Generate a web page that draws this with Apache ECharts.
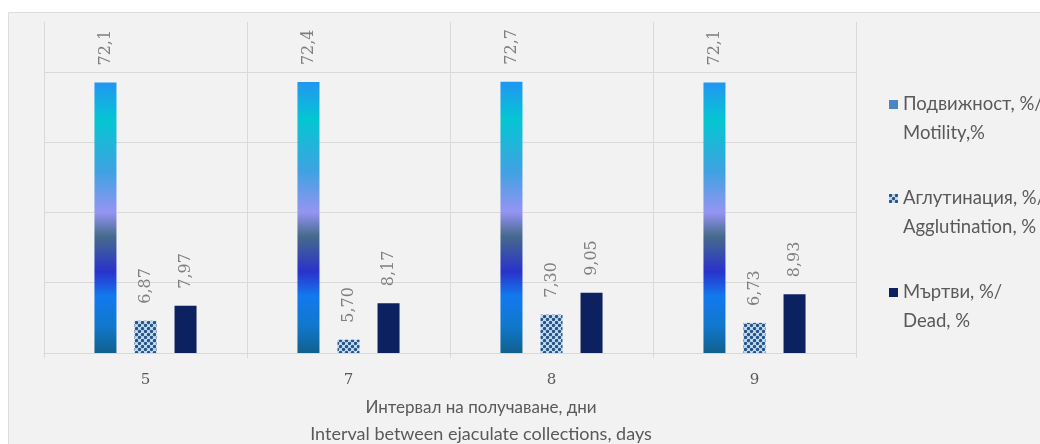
<!DOCTYPE html>
<html>
<head>
<meta charset="utf-8">
<script src="https://cdn.jsdelivr.net/npm/echarts@6/dist/echarts.min.js"></script>
<style>
  html, body { margin: 0; padding: 0; background: #ffffff; }
  #chart { width: 1040px; height: 444px; }
</style>
</head>
<body>
<div id="chart"></div>
<script>
// Collection interval (days) and semen quality indicators
const categories = ['5', '7', '8', '9'];
const motility = [72.1, 72.4, 72.7, 72.1];
const agglutination = [6.87, 5.70, 7.30, 6.73];
const dead = [7.97, 8.17, 9.05, 8.93];

const seriesNames = [
  'Подвижност, %/\nMotility,%',
  'Аглутинация, %/\nAgglutination, %',
  'Мъртви, %/\nDead, %'
];
const axisTitleBg = 'Интервал на получаване, дни';
const axisTitleEn = 'Interval between ejaculate collections, days';

// Value axis: base-2 logarithmic, starting at 5
const logMin = 5;
const logMax = 131;
const doublings = Math.log2(logMax / logMin);

// Dotted fill for the agglutination bars
function dotPattern() {
  const c = document.createElement('canvas');
  c.width = 6; c.height = 6;
  const g = c.getContext('2d');
  g.fillStyle = '#d6e6f6';
  g.fillRect(0, 0, 6, 6);
  g.fillStyle = '#24558c';
  [[1.5, 1.5], [4.5, 4.5], [-1.5, 4.5], [4.5, -1.5], [7.5, 1.5], [1.5, 7.5]].forEach(function (p) {
    g.beginPath();
    g.arc(p[0], p[1], 1.75, 0, Math.PI * 2);
    g.fill();
  });
  return c;
}

const motilityGradient = new echarts.graphic.LinearGradient(0, 0, 0, 1, [
  { offset: 0.00, color: '#2196f2' },
  { offset: 0.14, color: '#05c6d2' },
  { offset: 0.33, color: '#3fa2e2' },
  { offset: 0.48, color: '#9594f2' },
  { offset: 0.57, color: '#456a8c' },
  { offset: 0.70, color: '#2a32cc' },
  { offset: 0.79, color: '#1279ef' },
  { offset: 0.90, color: '#1078cc' },
  { offset: 1.00, color: '#10608e' }
]);

function fmt(digits) {
  return function (p) { return p.value.toFixed(digits).replace('.', ','); };
}

const labelBase = {
  show: true,
  position: 'top',
  rotate: 90,
  align: 'left',
  verticalAlign: 'middle',
  distance: 17,
  color: '#7f7f7f',
  fontFamily: 'DejaVu Serif',
  fontSize: 16
};

const chart = echarts.init(document.getElementById('chart'), null, { renderer: 'canvas' });

chart.setOption({
  animation: false,
  backgroundColor: '#ffffff',
  graphic: [{
    type: 'rect',
    z: -10,
    shape: { x: 8.5, y: 12.5, width: 1040, height: 440 },
    style: { fill: '#f2f2f2', stroke: '#dcdcdc', lineWidth: 1 }
  }],
  grid: {
    left: 44, right: 184, top: 22, bottom: 91,
    containLabel: false,
    outerBoundsMode: 'none'
  },
  legend: {
    orient: 'vertical',
    left: 884,
    top: 56,
    itemWidth: 9,
    itemHeight: 9,
    itemGap: 7,
    selectedMode: false,
    // leading blank line keeps the marker beside the first text line
    formatter: function (name) { return '\u00a0\n' + name; },
    textStyle: {
      fontFamily: 'Lato',
      fontSize: 18.5,
      color: '#595959',
      lineHeight: 29
    },
    data: [
      { name: seriesNames[0], icon: 'rect', itemStyle: { color: '#4a86c4' } },
      { name: seriesNames[1], icon: 'rect' },
      { name: seriesNames[2], icon: 'rect' }
    ]
  },
  xAxis: {
    type: 'category',
    data: categories,
    axisLine: { show: true, lineStyle: { color: '#d9d9d9', width: 1 } },
    axisTick: { show: true, length: 5, lineStyle: { color: '#d9d9d9' } },
    splitLine: { show: true, lineStyle: { color: '#d9d9d9', width: 1 } },
    axisLabel: {
      margin: 20,
      color: '#595959',
      fontFamily: 'DejaVu Serif',
      fontSize: 15
    },
    name: '{bg|' + axisTitleBg + '}\n{en|' + axisTitleEn + '}',
    nameLocation: 'middle',
    nameGap: 42,
    nameTextStyle: {
      fontFamily: 'Lato',
      fontSize: 17,
      color: '#595959',
      lineHeight: 26,
      padding: [0, 0, 0, 62],
      rich: {
        bg: { fontFamily: 'Lato', fontSize: 17, color: '#595959', lineHeight: 26 },
        en: { fontFamily: 'Lato', fontSize: 18, color: '#595959', lineHeight: 26 }
      }
    }
  },
  yAxis: [
    {
      type: 'log',
      logBase: 2,
      min: logMin,
      max: logMax,
      startValue: logMin,
      axisLine: { show: false },
      axisTick: { show: false },
      axisLabel: { show: false },
      splitLine: { show: false }
    },
    {
      // horizontal gridlines, one per doubling from 5
      type: 'value',
      min: 0,
      max: doublings,
      interval: 1,
      axisLine: { show: false },
      axisTick: { show: false },
      axisLabel: { show: false },
      splitLine: {
        show: true,
        showMinLine: false,
        showMaxLine: false,
        lineStyle: { color: '#d9d9d9', width: 1 }
      }
    }
  ],
  series: [
    {
      name: seriesNames[0],
      type: 'bar',
      yAxisIndex: 0,
      data: motility,
      barWidth: 22,
      barGap: '82%',
      itemStyle: { color: motilityGradient },
      label: Object.assign({}, labelBase, { formatter: fmt(1) })
    },
    {
      name: seriesNames[1],
      type: 'bar',
      yAxisIndex: 0,
      data: agglutination,
      barWidth: 22,
      barGap: '82%',
      itemStyle: { color: { image: dotPattern(), repeat: 'repeat' } },
      label: Object.assign({}, labelBase, { formatter: fmt(2) })
    },
    {
      name: seriesNames[2],
      type: 'bar',
      yAxisIndex: 0,
      data: dead,
      barWidth: 22,
      barGap: '82%',
      itemStyle: { color: '#0b2160' },
      label: Object.assign({}, labelBase, { formatter: fmt(2) })
    }
  ]
});
</script>
</body>
</html>
